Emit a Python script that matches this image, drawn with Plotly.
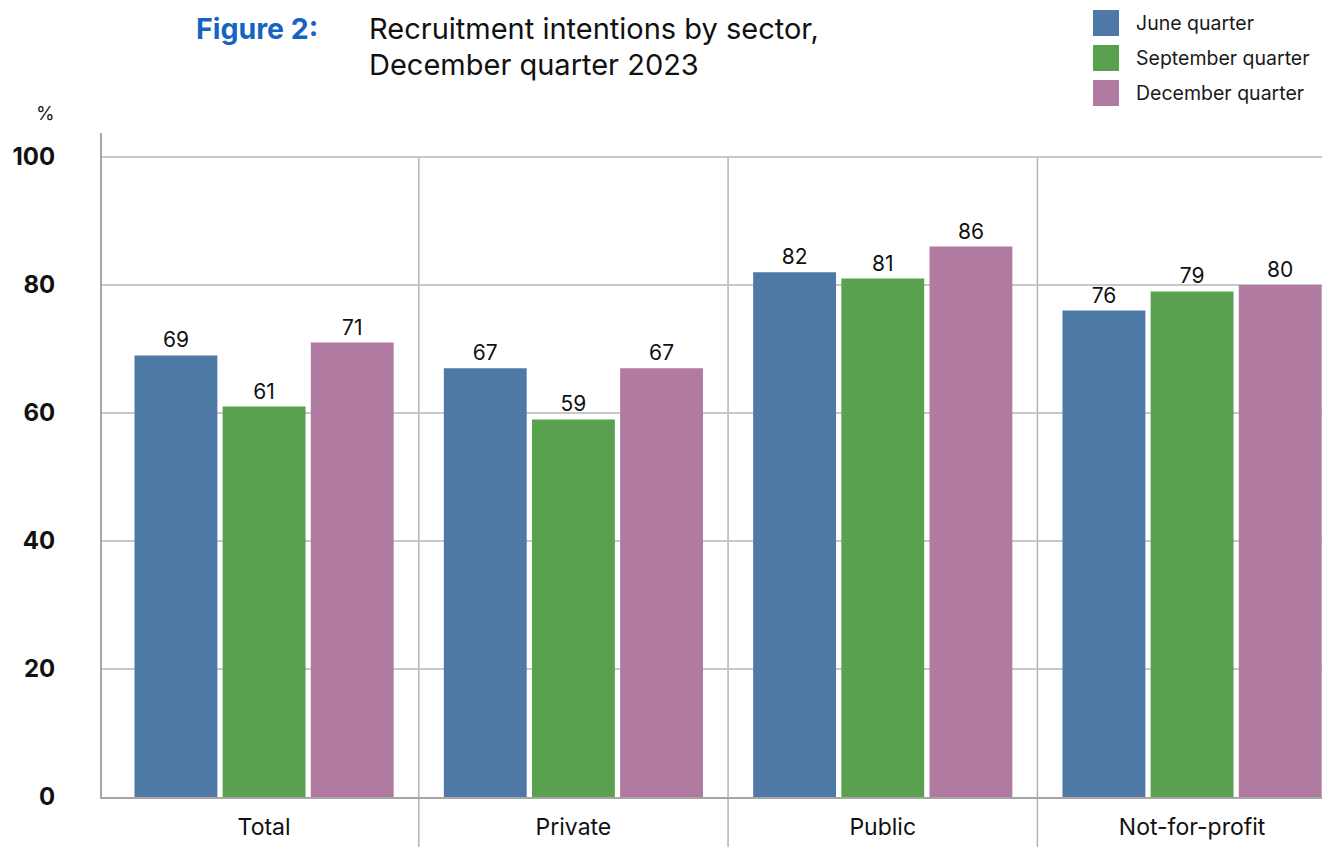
import plotly.graph_objects as go

# Recruitment intentions by sector (%), by survey quarter
sectors = ["Total", "Private", "Public", "Not-for-profit"]
series_names = ["June quarter", "September quarter", "December quarter"]
june = [69, 67, 82, 76]
september = [61, 59, 81, 79]
december = [71, 67, 86, 80]
y_ticks = [0, 20, 40, 60, 80, 100]

colors = ["#4e79a7", "#59a14f", "#b07aa1"]
FONT = "Inter"

W, H = 1333, 847
ML, MR, MT, MB = 102, 11, 133, 50
PW, PH = W - ML - MR, H - MT - MB


def px_x(x):
    return (x - ML) / PW


def px_y(y):
    return (H - MB - y) / PH


fig = go.Figure()
for name, vals, col in zip(series_names, [june, september, december], colors):
    fig.add_trace(go.Bar(
        x=sectors, y=vals, name=name, marker_color=col, marker_line_width=0,
        text=vals, texttemplate="%{text}", textposition="outside",
        textfont=dict(family=FONT, size=21, color="#111111"),
        cliponaxis=False, showlegend=False,
    ))

shapes = []
# vertical separators between sector groups
for i in range(len(sectors) - 1):
    shapes.append(dict(type="line", xref="x", yref="paper", x0=i + 0.5, x1=i + 0.5,
                       y0=px_y(H), y1=100 / 103.75,
                       line=dict(color="#b4b4b4", width=1.5), layer="below"))

# legend swatches and labels
annotations = []
for k, (name, col) in enumerate(zip(series_names, colors)):
    top = 10 + k * 35
    shapes.append(dict(type="rect", xref="paper", yref="paper",
                       x0=px_x(1093), x1=px_x(1119), y0=px_y(top + 26), y1=px_y(top),
                       fillcolor=col, line_width=0))
    annotations.append(dict(xref="paper", yref="paper", x=px_x(1134), y=px_y(top + 13),
                            text=name, showarrow=False, xanchor="left", yanchor="middle",
                            font=dict(family=FONT, size=19.5, color="#1a1a1a")))

annotations += [
    dict(xref="paper", yref="paper", x=px_x(320), y=px_y(28), text="<b>Figure 2:</b>",
         showarrow=False, xanchor="right", yanchor="middle",
         font=dict(family=FONT, size=28.5, color="#1565c0")),
    dict(xref="paper", yref="paper", x=px_x(367), y=px_y(28),
         text="Recruitment intentions by sector,", showarrow=False,
         xanchor="left", yanchor="middle", font=dict(family=FONT, size=29, color="#111111")),
    dict(xref="paper", yref="paper", x=px_x(367), y=px_y(64),
         text="December quarter 2023", showarrow=False,
         xanchor="left", yanchor="middle", font=dict(family=FONT, size=29, color="#111111")),
    dict(xref="paper", yref="paper", x=px_x(57), y=px_y(113), text="%",
         showarrow=False, xanchor="right", yanchor="middle",
         font=dict(family=FONT, size=19, color="#1a1a1a")),
]

fig.update_layout(
    width=W, height=H,
    margin=dict(l=ML, r=MR, t=MT, b=MB, pad=0, autoexpand=False),
    paper_bgcolor="white", plot_bgcolor="white",
    barmode="group", bargap=0.145, bargroupgap=0.06,
    shapes=shapes, annotations=annotations,
    xaxis=dict(range=[-0.524, 3.42], showgrid=False, showline=True, automargin=False,
               linecolor="#a6a6a6", linewidth=2, ticks="", ticklabelstandoff=8,
               tickfont=dict(family=FONT, size=23, color="#111111"), zeroline=False),
    yaxis=dict(range=[0, 103.75], tickvals=y_ticks, showgrid=True, gridcolor="#c8c8c8",
               gridwidth=1.5, showline=True, linecolor="#a6a6a6", linewidth=2,
               zeroline=False, ticks="", ticklabelstandoff=40, automargin=False,
               tickfont=dict(family=FONT, size=24, color="#111111", weight="bold")),
)

fig.write_html("out.html")
